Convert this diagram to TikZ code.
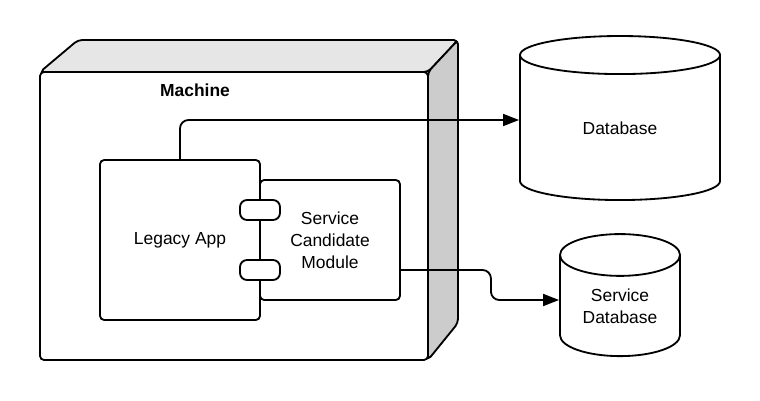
\documentclass[tikz,border=0pt]{standalone}
\usepackage{fontspec}
\setmainfont{Liberation Sans}
\usetikzlibrary{calc,shapes.geometric,arrows.meta}

\definecolor{top gray}{HTML}{E6E6E6}
\definecolor{side gray}{HTML}{CCCCCC}

\begin{document}
\begin{tikzpicture}[x=0.025cm,y=-0.025cm,line width=1.3pt,
  label font/.style={font=\fontsize{12.4}{15.6}\selectfont},
  comp box/.style={draw,fill=white,rounded corners=3pt,inner sep=0pt,align=center,label font},
  port box/.style={draw,fill=white,rounded corners=5pt,minimum width=1cm,minimum height=0.5cm,inner sep=0pt},
  db shape/.style={draw,fill=white,cylinder,shape border rotate=90,inner sep=0pt,align=center,label font},
  link/.style={-{Triangle[length=4mm,width=3mm]},rounded corners=6pt}]
  \useasboundingbox (0,0) rectangle (760,400);

  % the machine node, drawn as a box
  \draw[fill=top gray,rounded corners=3pt] (40,72) -- (78,40) -- (458,40) -- (428,72) -- cycle;
  \draw[fill=side gray,rounded corners=3pt] (428,72) -- (458,40) -- (458,323) -- (428,360) -- cycle;
  \node[comp box,minimum width=9.7cm,minimum height=7.2cm] (machine) at (234,216) {};
  \node[font=\fontsize{12.4}{15.6}\selectfont\bfseries] (machine label) at (195,90) {Machine};

  \node[comp box,minimum width=4cm,minimum height=4cm] (legacy) at (180,240) {Legacy App};
  \node[comp box,minimum width=3.5cm,minimum height=3cm] (scm) at (330,240) {Service\\Candidate\\Module};
  \node[port box] (port 1) at (260,210) {};
  \node[port box] (port 2) at (260,270) {};

  \node[db shape,minimum width=5cm,minimum height=4.1cm,aspect=0.51] (db) at (620,128) {Database};
  \node[db shape,minimum width=3cm,minimum height=3.05cm,aspect=0.56] (sdb) at (620,306) {Service\\Database};

  \coordinate (db in) at ($ (db.west) + (0,-8) $);
  \coordinate (sdb in) at ($ (sdb.west) + (0,-6) $);
  \draw[link] (legacy.north) |- (db in);
  \draw[link] ($ (scm.east) + (0,30) $) -- ++(90,0) |- (sdb in);
\end{tikzpicture}
\end{document}
